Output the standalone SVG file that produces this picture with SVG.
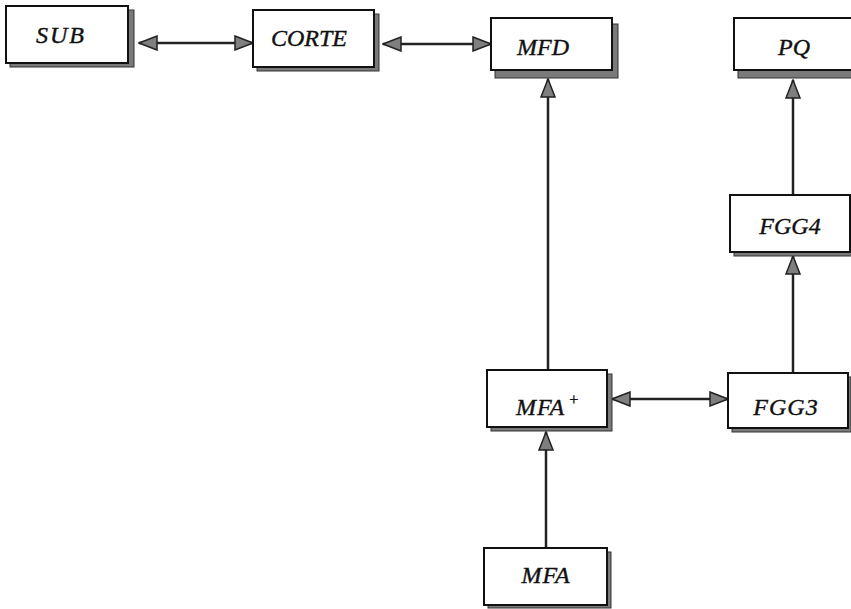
<svg xmlns="http://www.w3.org/2000/svg" width="851" height="609" viewBox="0 0 851 609">
<style>
.box{fill:#fff;stroke:#111;stroke-width:2}
.sh{fill:#7a7a7a;stroke:#333;stroke-width:1}
.lbl{font-family:"Liberation Serif","Times New Roman",serif;font-style:italic;font-size:24px;fill:#111;stroke:#111;stroke-width:0.4;text-anchor:middle}
.sup{font-size:16px}
.con{stroke:#222;stroke-width:2.5;fill:none}
</style>
<defs>
<marker id="ah" viewBox="0 0 20 16" refX="19" refY="8" markerWidth="20" markerHeight="16" markerUnits="userSpaceOnUse" orient="auto-start-reverse">
<path d="M1,1 L19,8 L1,15 z" fill="#7f7f7f" stroke="#222" stroke-width="1.5"/>
</marker>
</defs>
<rect width="851" height="609" fill="#fff"/>
<g id="connectors">
<line class="con" x1="139" y1="43" x2="253" y2="43" marker-start="url(#ah)" marker-end="url(#ah)"/>
<line class="con" x1="383" y1="44" x2="491" y2="44" marker-start="url(#ah)" marker-end="url(#ah)"/>
<line class="con" x1="548" y1="370" x2="548" y2="79" marker-end="url(#ah)"/>
<line class="con" x1="612" y1="399" x2="728" y2="399" marker-start="url(#ah)" marker-end="url(#ah)"/>
<line class="con" x1="793" y1="373" x2="793" y2="256" marker-end="url(#ah)"/>
<line class="con" x1="793" y1="195" x2="793" y2="80" marker-end="url(#ah)"/>
<line class="con" x1="546" y1="548" x2="546" y2="432" marker-end="url(#ah)"/>
</g>
<g id="SUB">
<rect class="sh" x="10" y="10" width="124" height="57"/>
<rect class="box" x="6" y="6" width="122" height="57"/>
<text class="lbl" x="61" y="43" letter-spacing="2">SUB</text>
</g>
<g id="CORTE">
<rect class="sh" x="257" y="14" width="122" height="57"/>
<rect class="box" x="253" y="10" width="121" height="57"/>
<text class="lbl" x="309" y="46">CORTE</text>
</g>
<g id="MFD">
<rect class="sh" x="495" y="24" width="123" height="54"/>
<rect class="box" x="491" y="18" width="121" height="52"/>
<text class="lbl" x="543" y="55">MFD</text>
</g>
<g id="PQ">
<rect class="sh" x="738" y="24" width="120" height="54"/>
<rect class="box" x="734" y="18" width="120" height="52"/>
<text class="lbl" x="794" y="55">PQ</text>
</g>
<g id="FGG4">
<rect class="sh" x="734" y="200" width="120" height="56"/>
<rect class="box" x="730" y="195" width="120" height="57"/>
<text class="lbl" x="790" y="234">FGG4</text>
</g>
<g id="FGG3">
<rect class="sh" x="732" y="377" width="119" height="55"/>
<rect class="box" x="728" y="373" width="120" height="55"/>
<text class="lbl" x="786" y="415" letter-spacing="1">FGG3</text>
</g>
<g id="MFAplus">
<rect class="sh" x="491" y="374" width="121" height="57"/>
<rect class="box" x="487" y="370" width="120" height="57"/>
<text class="lbl" x="548" y="415" letter-spacing="1">MFA<tspan class="sup" dy="-10" dx="3">+</tspan></text>
</g>
<g id="MFA">
<rect class="sh" x="488" y="552" width="123" height="56"/>
<rect class="box" x="484" y="548" width="123" height="57"/>
<text class="lbl" x="546" y="583" letter-spacing="1">MFA</text>
</g>
</svg>
